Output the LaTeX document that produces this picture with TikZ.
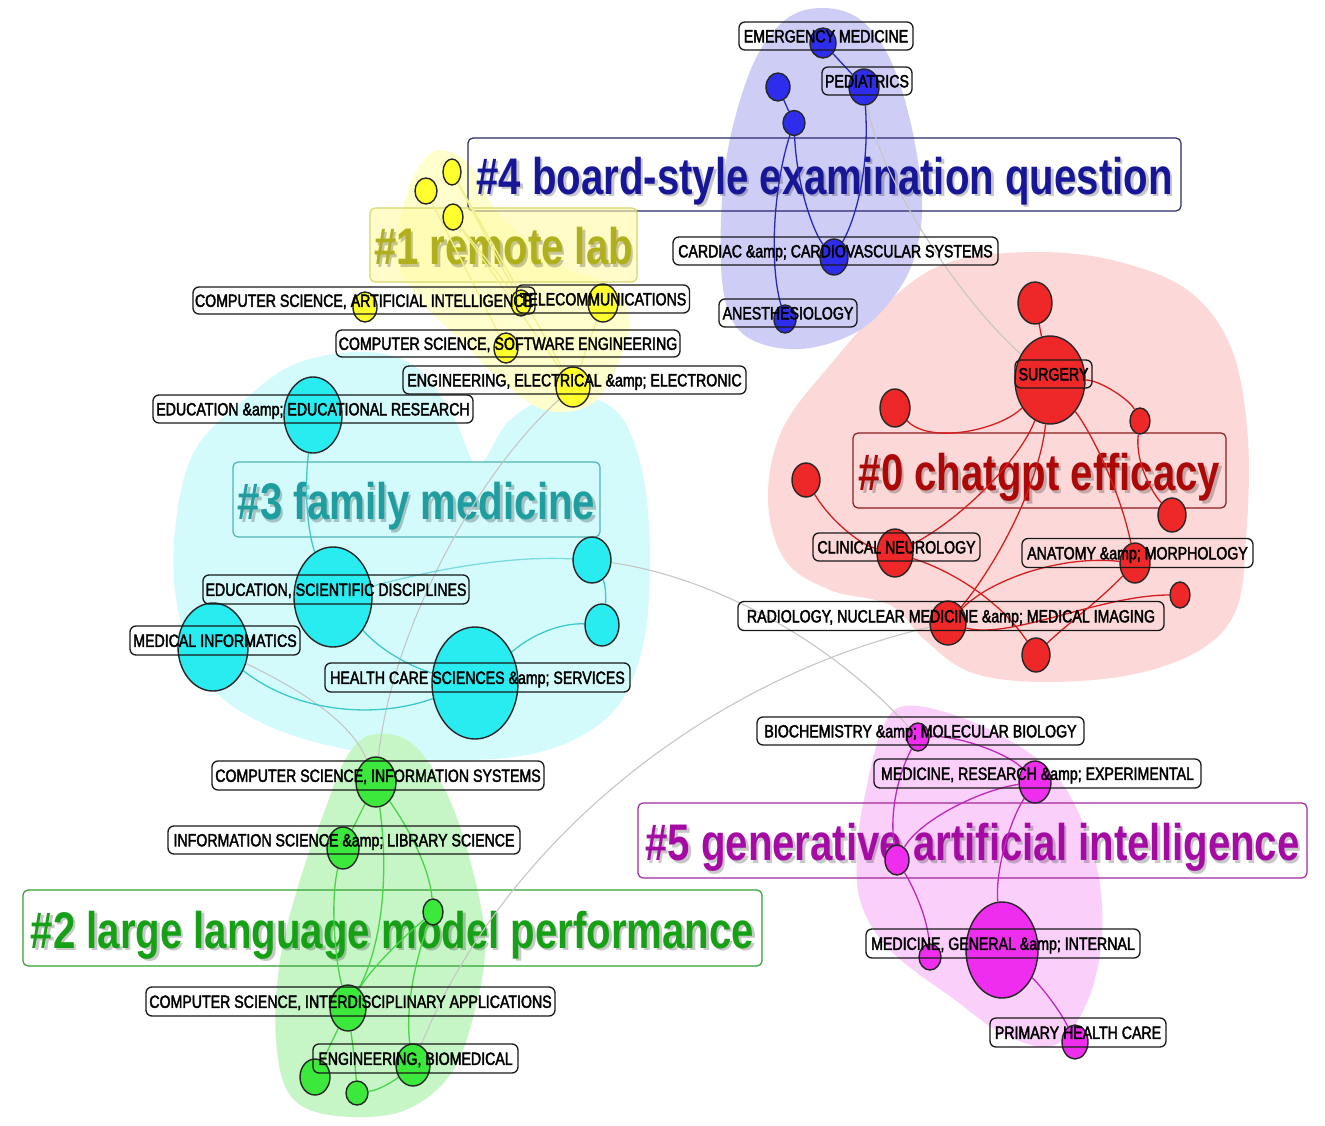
\documentclass[tikz,border=0pt]{standalone}
\usepackage{fontspec}
\usetikzlibrary{shapes.geometric}
\newfontfamily\labfont[FakeStretch=0.80,FakeBold=2.2]{Liberation Sans}
\newfontfamily\titfont[FakeStretch=0.78]{Liberation Sans}
\pgfdeclarelayer{hull}
\pgfdeclarelayer{titles}
\pgfdeclarelayer{edges}
\pgfdeclarelayer{labels}
\pgfsetlayers{hull,titles,edges,main,labels}
\definecolor{hblue}{RGB}{205,205,245}
\definecolor{hred}{RGB}{252,216,216}
\definecolor{hcyan}{RGB}{212,251,251}
\definecolor{hyel}{RGB}{255,255,205}
\definecolor{hgreen}{RGB}{198,245,198}
\definecolor{hmag}{RGB}{250,208,250}
\definecolor{nblue}{RGB}{45,45,235}
\definecolor{nred}{RGB}{238,40,40}
\definecolor{ncyan}{RGB}{40,236,240}
\definecolor{nyel}{RGB}{255,255,45}
\definecolor{ngreen}{RGB}{60,232,60}
\definecolor{nmag}{RGB}{238,45,238}
\definecolor{eblue}{RGB}{40,40,190}
\definecolor{ered}{RGB}{215,30,30}
\definecolor{ecyan}{RGB}{60,200,205}
\definecolor{eyel}{RGB}{240,240,140}
\definecolor{egreen}{RGB}{70,215,70}
\definecolor{emag}{RGB}{190,40,190}
\definecolor{egray}{RGB}{198,198,198}
\definecolor{tfour}{RGB}{22,22,150}
\definecolor{tone}{RGB}{176,176,28}
\definecolor{tthree}{RGB}{30,158,160}
\definecolor{tzero}{RGB}{172,8,8}
\definecolor{tfive}{RGB}{165,10,165}
\definecolor{ttwo}{RGB}{22,160,22}
\definecolor{bfour}{RGB}{40,40,110}
\definecolor{bone}{RGB}{215,215,110}
\definecolor{bthree}{RGB}{80,180,180}
\definecolor{bzero}{RGB}{140,30,30}
\definecolor{bfive}{RGB}{160,40,160}
\definecolor{btwo}{RGB}{50,160,50}
\tikzset{
  cnode/.style={ellipse, draw=black!85, line width=1.4pt, inner sep=0pt},
  bn/.style={cnode, fill=nblue},
  rn/.style={cnode, fill=nred},
  cn/.style={cnode, fill=ncyan},
  yn/.style={cnode, fill=nyel},
  gn/.style={cnode, fill=ngreen},
  mn/.style={cnode, fill=nmag},
  lab/.style={draw=black!90, line width=1.3pt, rounded corners=6pt, inner sep=0pt,
    font=\labfont\fontsize{17.7pt}{20pt}\selectfont, text height=12.7pt, text depth=0pt},
  tit/.style={rounded corners=5pt, line width=1.2pt, inner sep=0pt},
  tittext/.style={font=\titfont\bfseries\fontsize{51.5pt}{56pt}\selectfont, text height=37pt, text depth=0pt, inner sep=0pt},
  shad/.style={tittext, text=black, opacity=0.22},
  ebl/.style={draw=eblue, line width=1.3pt},
  erd/.style={draw=ered, line width=1.3pt},
  ecy/.style={draw=ecyan, line width=1.3pt},
  eye/.style={draw=eyel, line width=1.3pt},
  egr/.style={draw=egreen, line width=1.3pt},
  emg/.style={draw=emag, line width=1.3pt},
  egy/.style={draw=egray, line width=1.1pt},
}
\begin{document}
\begin{tikzpicture}[x=1pt,y=-1pt]
\useasboundingbox (0,0) rectangle (1325,1126);

% ---------------- hulls
\begin{pgfonlayer}{hull}
\fill[white] (0,0) rectangle (1325,1126);
\fill[hred] plot[smooth cycle, tension=0.6] coordinates {(950,262) (1040,252) (1120,262) (1190,292) (1232,350) (1248,440) (1246,540) (1236,610) (1200,650) (1130,675) (1040,682) (970,672) (925,640) (890,605) (830,590) (785,560) (768,500) (782,430) (830,365) (890,300)};
\fill[hblue] plot[smooth cycle, tension=0.6] coordinates {(820,8) (858,18) (888,55) (910,120) (922,200) (915,255) (895,295) (860,330) (810,348) (765,345) (735,325) (722,280) (722,200) (732,130) (755,60) (785,20)};
\fill[hmag] plot[smooth cycle, tension=0.6] coordinates {(900,707) (945,712) (1000,735) (1047,767) (1075,805) (1097,867) (1102,935) (1088,1000) (1055,1045) (1005,1035) (955,1000) (890,950) (860,900) (858,840) (866,790) (880,735)};
\fill[hcyan] plot[smooth cycle, tension=0.6] coordinates {(250,395) (300,362) (370,352) (420,370) (455,420) (478,465) (510,420) (560,395) (615,410) (642,470) (650,560) (642,650) (610,715) (540,752) (440,760) (340,748) (260,722) (205,680) (178,610) (175,530) (195,450)};
\fill[hyel] plot[smooth cycle, tension=0.6] coordinates {(440,150) (470,165) (500,215) (560,265) (610,285) (630,320) (615,370) (590,405) (545,410) (500,380) (460,340) (420,300) (395,255) (405,200) (420,165)};
\fill[hgreen] plot[smooth cycle, tension=0.6] coordinates {(370,735) (410,742) (445,790) (470,860) (485,940) (475,1010) (450,1075) (400,1112) (330,1115) (290,1095) (276,1040) (280,960) (300,880) (325,810) (345,760)};
\end{pgfonlayer}

% ---------------- cluster titles
\begin{pgfonlayer}{titles}
\node[tit, draw=bfour, minimum width=713pt, minimum height=73pt] (T4) at (824.5,174.5) {};
\node[shad] (T4s) at ([shift={(2.5,4)}]T4.center) {\#4 board-style examination question};
\node[tittext, text=tfour] (T4t) at ([shift={(0,1.5)}]T4.center) {\#4 board-style examination question};

\node[tit, draw=bone, fill=yellow!35, fill opacity=0.6, minimum width=267pt, minimum height=74pt] (T1) at (503.5,245) {};
\node[shad] (T1s) at ([shift={(2.5,4)}]T1.center) {\#1 remote lab};
\node[tittext, text=tone] (T1t) at ([shift={(0,1.5)}]T1.center) {\#1 remote lab};

\node[tit, draw=bthree, fill=hcyan, minimum width=367pt, minimum height=75pt] (T3) at (416.5,499.5) {};
\node[shad] (T3s) at ([shift={(2.5,4)}]T3.center) {\#3 family medicine};
\node[tittext, text=tthree] (T3t) at ([shift={(0,1.5)}]T3.center) {\#3 family medicine};

\node[tit, draw=bzero, minimum width=373pt, minimum height=75pt] (T0) at (1039.5,470.5) {};
\node[shad] (T0s) at ([shift={(2.5,4)}]T0.center) {\#0 chatgpt efficacy};
\node[tittext, text=tzero] (T0t) at ([shift={(0,1.5)}]T0.center) {\#0 chatgpt efficacy};

\node[tit, draw=bfive, minimum width=669pt, minimum height=75pt] (T5) at (972.5,840.5) {};
\node[shad] (T5s) at ([shift={(2.5,4)}]T5.center) {\#5 generative artificial intelligence};
\node[tittext, text=tfive] (T5t) at ([shift={(0,1.5)}]T5.center) {\#5 generative artificial intelligence};

\node[tit, draw=btwo, minimum width=739pt, minimum height=76pt] (T2) at (392.5,928) {};
\node[shad] (T2s) at ([shift={(2.5,4)}]T2.center) {\#2 large language model performance};
\node[tittext, text=ttwo] (T2t) at ([shift={(0,1.5)}]T2.center) {\#2 large language model performance};
\end{pgfonlayer}

% ---------------- nodes
% blue
\node[bn, minimum width=26pt, minimum height=30pt] (b1) at (823,43) {};
\node[bn, minimum width=30pt, minimum height=36pt] (b2) at (864,87) {};
\node[bn, minimum width=24pt, minimum height=28pt] (b3) at (778,87) {};
\node[bn, minimum width=22pt, minimum height=25pt] (b4) at (794,123) {};
\node[bn, minimum width=28pt, minimum height=36pt] (b5) at (834,257) {};
\node[bn, minimum width=22pt, minimum height=28pt] (b6) at (785,319) {};
% yellow
\node[yn, minimum width=18pt, minimum height=26pt] (y1) at (452,172) {};
\node[yn, minimum width=22pt, minimum height=26pt] (y2) at (426,191) {};
\node[yn, minimum width=20pt, minimum height=26pt] (y3) at (453,217) {};
\node[yn, minimum width=24pt, minimum height=30pt] (y4) at (365,307) {};
\node[yn, minimum width=20pt, minimum height=26pt] (y5) at (521,303) {};
\node[yn, minimum width=30pt, minimum height=38pt] (y6) at (603,303) {};
\node[yn, minimum width=24pt, minimum height=30pt] (y7) at (506,348) {};
\node[yn, minimum width=34pt, minimum height=40pt] (y8) at (573,387) {};
% cyan
\node[cn, minimum width=58pt, minimum height=76pt] (c1) at (313,415) {};
\node[cn, minimum width=78pt, minimum height=100pt] (c2) at (333,597) {};
\node[cn, minimum width=70pt, minimum height=88pt] (c3) at (213,647) {};
\node[cn, minimum width=86pt, minimum height=112pt] (c4) at (475,683) {};
\node[cn, minimum width=38pt, minimum height=46pt] (c5) at (592,560) {};
\node[cn, minimum width=34pt, minimum height=42pt] (c6) at (602,625) {};
% red
\node[rn, minimum width=34pt, minimum height=42pt] (r1) at (1035,303) {};
\node[rn, minimum width=70pt, minimum height=88pt] (r2) at (1050,380) {};
\node[rn, minimum width=30pt, minimum height=38pt] (r3) at (895,408) {};
\node[rn, minimum width=20pt, minimum height=26pt] (r4) at (1140,421) {};
\node[rn, minimum width=28pt, minimum height=34pt] (r5) at (806,480) {};
\node[rn, minimum width=28pt, minimum height=34pt] (r6) at (1172,515) {};
\node[rn, minimum width=36pt, minimum height=48pt] (r7) at (895,553) {};
\node[rn, minimum width=30pt, minimum height=40pt] (r8) at (1135,563) {};
\node[rn, minimum width=20pt, minimum height=26pt] (r9) at (1180,595) {};
\node[rn, minimum width=36pt, minimum height=44pt] (r10) at (948,623) {};
\node[rn, minimum width=28pt, minimum height=34pt] (r11) at (1036,655) {};
% magenta
\node[mn, minimum width=22pt, minimum height=28pt] (m1) at (918,737) {};
\node[mn, minimum width=32pt, minimum height=42pt] (m2) at (1035,782) {};
\node[mn, minimum width=24pt, minimum height=30pt] (m3) at (897,860) {};
\node[mn, minimum width=22pt, minimum height=26pt] (m4) at (930,957) {};
\node[mn, minimum width=72pt, minimum height=96pt] (m5) at (1002,950) {};
\node[mn, minimum width=26pt, minimum height=34pt] (m6) at (1075,1042) {};
% green
\node[gn, minimum width=40pt, minimum height=50pt] (g1) at (376,782) {};
\node[gn, minimum width=32pt, minimum height=42pt] (g2) at (343,848) {};
\node[gn, minimum width=20pt, minimum height=26pt] (g3) at (433,912) {};
\node[gn, minimum width=36pt, minimum height=46pt] (g4) at (348,1008) {};
\node[gn, minimum width=34pt, minimum height=42pt] (g5) at (413,1065) {};
\node[gn, minimum width=30pt, minimum height=36pt] (g6) at (315,1077) {};
\node[gn, minimum width=22pt, minimum height=24pt] (g7) at (357,1093) {};

% ---------------- edges
\begin{pgfonlayer}{edges}
% gray inter-cluster links
\draw[egy] (b2) .. controls (880,180) and (960,300) .. (r2);
\draw[egy] (y8) .. controls (470,480) and (390,640) .. (g1);
\draw[egy] (c3) .. controls (300,690) and (350,720) .. (g1);
\draw[egy] (c5) .. controls (700,575) and (820,630) .. (m1);
\draw[egy] (r10) .. controls (700,680) and (500,850) .. (g5);
% blue
\draw[ebl] (b1) -- (b2);
\draw[ebl] (b3) -- (b4);
\draw[ebl] (b4) .. controls (797,190) and (815,235) .. (b5);
\draw[ebl] (b4) .. controls (775,180) and (768,260) .. (b6);
\draw[ebl] (b2) .. controls (870,170) and (855,220) .. (b5);
% yellow
\draw[eye] (y1) -- (y5);
\draw[eye] (y2) -- (y7);
\draw[eye] (y3) -- (y8);
\draw[eye] (y3) -- (y5);
\draw[eye] (y8) -- (y6);
\draw[eye] (y1) -- (y8);
% cyan
\draw[ecy] (c1) .. controls (303,500) and (310,540) .. (c2);
\draw[ecy] (c2) .. controls (385,655) and (420,670) .. (c4);
\draw[ecy] (c3) .. controls (300,715) and (380,718) .. (c4);
\draw[ecy] (c4) .. controls (540,628) and (570,623) .. (c6);
\draw[ecy] (c5) .. controls (606,585) and (606,600) .. (c6);
\draw[ecy, draw opacity=0.6] (c2) .. controls (450,565) and (520,556) .. (c5);
% red
\draw[erd] (r1) -- (r2);
\draw[erd] (r3) .. controls (930,445) and (1000,430) .. (r2);
\draw[erd] (r2) .. controls (1100,380) and (1130,400) .. (r4);
\draw[erd] (r4) .. controls (1135,460) and (1150,490) .. (r6);
\draw[erd] (r2) .. controls (1090,430) and (1120,490) .. (r8);
\draw[erd] (r2) .. controls (1020,460) and (960,520) .. (r7);
\draw[erd] (r2) .. controls (1040,480) and (1000,560) .. (r10);
\draw[erd] (r5) .. controls (830,520) and (860,545) .. (r7);
\draw[erd] (r7) .. controls (950,570) and (1000,600) .. (r11);
\draw[erd] (r10) .. controls (990,580) and (1060,555) .. (r8);
\draw[erd] (r8) .. controls (1100,600) and (1060,630) .. (r11);
\draw[erd] (r9) .. controls (1100,595) and (1010,640) .. (r10);
% magenta
\draw[emg] (m1) .. controls (960,735) and (1010,755) .. (m2);
\draw[emg] (m1) .. controls (895,780) and (890,820) .. (m3);
\draw[emg] (m2) .. controls (980,790) and (920,820) .. (m3);
\draw[emg] (m3) .. controls (915,890) and (928,920) .. (m4);
\draw[emg] (m2) .. controls (1010,820) and (995,870) .. (m5);
\draw[emg] (m5) .. controls (1040,985) and (1060,1010) .. (m6);
% green
\draw[egr] (g1) -- (g2);
\draw[egr] (g1) .. controls (390,880) and (380,950) .. (g4);
\draw[egr] (g1) .. controls (410,830) and (430,870) .. (g3);
\draw[egr] (g2) .. controls (330,900) and (335,960) .. (g4);
\draw[egr] (g3) .. controls (400,940) and (370,970) .. (g4);
\draw[egr] (g3) .. controls (415,960) and (405,1010) .. (g5);
\draw[egr] (g4) -- (g6);
\draw[egr] (g4) .. controls (352,1040) and (355,1060) .. (g7);
\draw[egr] (g7) .. controls (380,1090) and (395,1080) .. (g5);
\end{pgfonlayer}

% ---------------- labels
\begin{pgfonlayer}{labels}
\node[lab, minimum width=174pt, minimum height=28pt] (lEM) at (826,36) {EMERGENCY MEDICINE};
\node[lab, minimum width=90pt, minimum height=28pt] (lPED) at (867,81) {PEDIATRICS};
\node[lab, minimum width=325pt, minimum height=28pt] (lCAR) at (835.5,251) {CARDIAC \&amp; CARDIOVASCULAR SYSTEMS};
\node[lab, minimum width=138pt, minimum height=28pt] (lANE) at (788,313) {ANESTHESIOLOGY};
\node[lab, minimum width=342pt, minimum height=27pt] (lCSAI) at (364,300.5) {COMPUTER SCIENCE, ARTIFICIAL INTELLIGENCE};
\node[lab, minimum width=173pt, minimum height=28pt] (lTEL) at (603,299) {TELECOMMUNICATIONS};
\node[lab, minimum width=344pt, minimum height=27pt] (lCSSE) at (508,343.5) {COMPUTER SCIENCE, SOFTWARE ENGINEERING};
\node[lab, minimum width=343pt, minimum height=28pt] (lEEE) at (574.5,380) {ENGINEERING, ELECTRICAL \&amp; ELECTRONIC};
\node[lab, minimum width=320pt, minimum height=28pt] (lEDR) at (313,409) {EDUCATION \&amp; EDUCATIONAL RESEARCH};
\node[lab, minimum width=266pt, minimum height=29pt] (lEDS) at (336,589.5) {EDUCATION, SCIENTIFIC DISCIPLINES};
\node[lab, minimum width=170pt, minimum height=29pt] (lMI) at (215,640.5) {MEDICAL INFORMATICS};
\node[lab, minimum width=305pt, minimum height=29pt] (lHC) at (477.5,677.5) {HEALTH CARE SCIENCES \&amp; SERVICES};
\node[lab, minimum width=77pt, minimum height=28pt] (lSUR) at (1053.5,374) {SURGERY};
\node[lab, minimum width=167pt, minimum height=28pt] (lCN) at (896.5,547) {CLINICAL NEUROLOGY};
\node[lab, minimum width=231pt, minimum height=29pt] (lANA) at (1137.5,553) {ANATOMY \&amp; MORPHOLOGY};
\node[lab, minimum width=426pt, minimum height=29pt] (lRAD) at (951,616) {RADIOLOGY, NUCLEAR MEDICINE \&amp; MEDICAL IMAGING};
\node[lab, minimum width=327pt, minimum height=28pt] (lBIO) at (920.5,731) {BIOCHEMISTRY \&amp; MOLECULAR BIOLOGY};
\node[lab, minimum width=327pt, minimum height=29pt] (lMRE) at (1037.5,773.5) {MEDICINE, RESEARCH \&amp; EXPERIMENTAL};
\node[lab, minimum width=274pt, minimum height=29pt] (lMGI) at (1003,943.5) {MEDICINE, GENERAL \&amp; INTERNAL};
\node[lab, minimum width=176pt, minimum height=29pt] (lPHC) at (1078,1032.5) {PRIMARY HEALTH CARE};
\node[lab, minimum width=332pt, minimum height=29pt] (lCSIS) at (378,775.5) {COMPUTER SCIENCE, INFORMATION SYSTEMS};
\node[lab, minimum width=352pt, minimum height=28pt] (lISL) at (344,840) {INFORMATION SCIENCE \&amp; LIBRARY SCIENCE};
\node[lab, minimum width=409pt, minimum height=29pt] (lCSIA) at (350.5,1001.5) {COMPUTER SCIENCE, INTERDISCIPLINARY APPLICATIONS};
\node[lab, minimum width=205pt, minimum height=29pt] (lEB) at (415.5,1058.5) {ENGINEERING, BIOMEDICAL};
\end{pgfonlayer}
\end{tikzpicture}
\end{document}
